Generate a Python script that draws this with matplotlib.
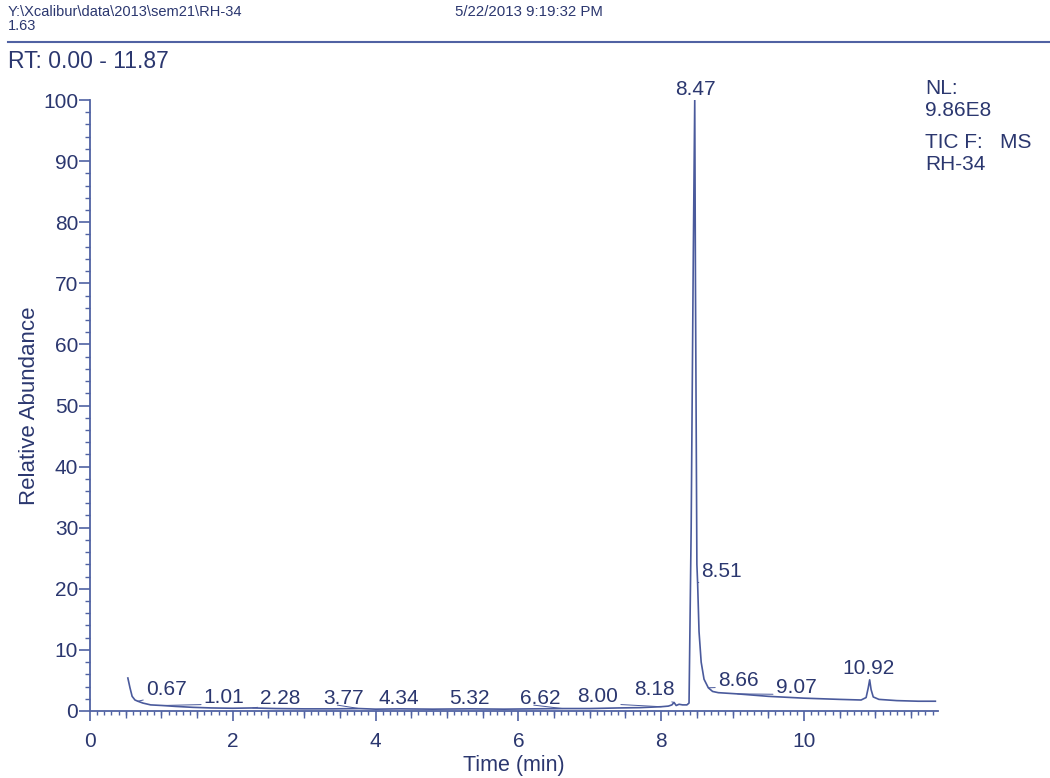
import numpy as np
import matplotlib
matplotlib.use("Agg")
import matplotlib.pyplot as plt
from matplotlib.ticker import MultipleLocator
from matplotlib.lines import Line2D

plt.rcParams['font.family'] = ['Liberation Sans', 'DejaVu Sans']

# Total ion chromatogram, sample RH-34
time_min = [0.53, 0.56, 0.59, 0.63, 0.67, 0.74, 0.85, 1.01, 1.20, 1.44, 1.70, 2.00,
            2.28, 2.60, 3.00, 3.40, 3.77, 4.00, 4.34, 4.80, 5.32, 5.80, 6.20, 6.62,
            7.00, 7.40, 7.70, 8.00, 8.10, 8.15, 8.18, 8.21, 8.25, 8.30, 8.36, 8.39,
            8.42, 8.45, 8.47, 8.48, 8.50, 8.51, 8.53, 8.56, 8.60, 8.66, 8.72, 8.80,
            9.07, 9.50, 10.00, 10.50, 10.80, 10.87, 10.90, 10.92, 10.94, 10.97,
            11.05, 11.30, 11.60, 11.84]
abundance = [5.4, 3.8, 2.4, 1.8, 1.6, 1.3, 1.0, 0.9, 0.75, 0.6, 0.5, 0.45,
             0.5, 0.4, 0.35, 0.35, 0.4, 0.3, 0.35, 0.3, 0.35, 0.3, 0.35, 0.4,
             0.4, 0.5, 0.55, 0.7, 0.8, 1.0, 1.4, 0.9, 1.1, 1.0, 1.0, 1.3,
             30.0, 75.0, 100.0, 70.0, 24.0, 21.0, 13.0, 8.0, 5.2, 3.8, 3.2, 3.0,
             2.8, 2.4, 2.1, 1.9, 1.8, 2.2, 3.8, 5.1, 3.5, 2.3,
             1.9, 1.7, 1.6, 1.6]

# Labelled retention times
peak_rt = [0.67, 1.01, 2.28, 3.77, 4.34, 5.32, 6.62, 8.00, 8.18, 8.47, 8.51, 8.66, 9.07, 10.92]

# Label placement (time, baseline abundance) for each labelled peak
label_x = [1.07, 1.88, 2.67, 3.55, 4.33, 5.31, 6.30, 7.11, 7.91, 8.48, 8.85, 9.08, 9.89, 10.90]
label_y = [2.6, 1.3, 1.15, 1.15, 1.15, 1.15, 1.15, 1.5, 2.6, 100.8, 21.9, 4.1, 2.9, 6.1]

TEXT = '#2b376f'
AXIS = '#5062a3'
TRACE = '#4a5a9c'

fig = plt.figure(figsize=(10.5, 7.78), dpi=100)
W, H = 1050, 778
ax = fig.add_axes([90 / W, 1 - 711 / H, (937.5 - 90) / W, (711 - 100) / H])

ax.plot(time_min, abundance, color=TRACE, lw=1.2, solid_joinstyle='round')

ax.set_xlim(0, 11.87)
ax.set_ylim(0, 100)
for s in ('top', 'right'):
    ax.spines[s].set_visible(False)
for s in ('left', 'bottom'):
    ax.spines[s].set_color(AXIS)
    ax.spines[s].set_linewidth(1.3)

ax.xaxis.set_major_locator(MultipleLocator(2))
ax.xaxis.set_minor_locator(MultipleLocator(0.1))
ax.yaxis.set_major_locator(MultipleLocator(10))
ax.yaxis.set_minor_locator(MultipleLocator(2))
ax.tick_params(axis='both', which='major', direction='out', width=1.2,
               color=AXIS, labelcolor=TEXT, labelsize=15)
ax.tick_params(axis='y', which='major', length=8, pad=0.5)
ax.tick_params(axis='x', which='major', length=7.2, pad=8)
ax.tick_params(axis='both', which='minor', direction='out', width=1.0, color=AXIS)
ax.tick_params(axis='y', which='minor', length=3.6)
ax.tick_params(axis='x', which='minor', length=3)

# medium ticks every half minute
sec = ax.secondary_xaxis('bottom')
half = [v for v in np.arange(0.5, 11.87, 0.5) if abs(v / 2 - round(v / 2)) > 1e-6]
sec.set_xticks(half)
sec.set_xticklabels([])
sec.tick_params(direction='out', length=5, width=1.0, color=AXIS)
sec.spines['bottom'].set_visible(False)

ax.set_xlabel('Time (min)', fontsize=15.5, color=TEXT, labelpad=2.5)
ax.set_ylabel('Relative Abundance', fontsize=16, color=TEXT)
ax.yaxis.set_label_coords((40 - 90) / 847.5, 0.5)

# Peak labels with leader lines
for rt, lx, ly in zip(peak_rt, label_x, label_y):
    py = float(np.interp(rt, time_min, abundance))
    if abs(lx - rt) < 0.05:
        ax.text(lx, ly, f'{rt:.2f}', ha='center', va='baseline', fontsize=15,
                color=TEXT, clip_on=False)
        continue
    ax.annotate(f'{rt:.2f}', xy=(rt, py), xytext=(lx, ly), textcoords='data',
                ha='center', va='baseline', fontsize=15, color=TEXT,
                annotation_clip=False,
                arrowprops=dict(arrowstyle='-', color=TRACE, lw=0.7,
                                shrinkA=0, shrinkB=0, relpos=(0.35, 0.15)))

# Header
fig.text(8 / W, 1 - 12 / H, 'Y:\\Xcalibur\\data\\2013\\sem21\\RH-34', fontsize=10.5,
         color=TEXT, va='center', ha='left')
fig.text(8 / W, 1 - 26 / H, '1.63', fontsize=10.5, color=TEXT, va='center', ha='left')
fig.text(455 / W, 1 - 12 / H, '5/22/2013 9:19:32 PM', fontsize=10.8, color=TEXT,
         va='center', ha='left')
fig.add_artist(Line2D([8 / W, 1.0], [1 - 42 / H, 1 - 42 / H], transform=fig.transFigure,
                      color=AXIS, lw=1.5))
fig.text(8 / W, 1 - 62 / H, 'RT: 0.00 - 11.87', fontsize=16.5, color=TEXT,
         va='center', ha='left')

# Trace information
for txt, y in [('NL:', 88), ('9.86E8', 111), ('TIC F:   MS', 143), ('RH-34', 165)]:
    fig.text(925 / W, 1 - y / H, txt, fontsize=15, color=TEXT, va='center', ha='left')

fig.savefig('out.png', dpi=100, facecolor='white')
